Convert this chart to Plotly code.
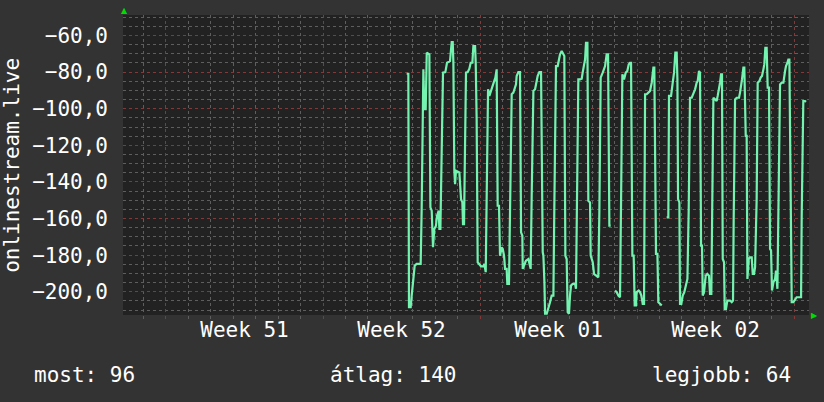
import pandas as pd
import plotly.graph_objects as go

# hours since 2024-12-26 00:00 and values (None = gap)
hours = [17.5, 19.3, 20.0, 21.8, 22.9, 24.7, 26.1, 28.2, 32.5, 33.6, 35.4, 36.4, 37.9, 39.0, 41.8,
         42.9, 44.3, 45.7, 47.1, 48.9, 50.0, 51.8, 52.5, 53.6, 54.6, 56.4, 58.9, 60.7, 63.9, 65.0,
         65.7, 66.8, 67.5, 68.5, 69.3, 70.3, 73.9, 75.7, 77.1, 77.8, 78.9, 79.6, 81.0, 82.8, 84.6,
         86.0, 87.8, 88.9, 90.7, 91.4, 92.4, 93.5, 95.3, 97.1, 99.6, 100.6, 102.1, 103.1, 104.6,
         106.0, 107.8, 109.6, 111.0, 112.4, 113.8, 114.9, 116.3, 117.4,
         119.2, 120.3, 121.7, 122.8, 124.5, 125.2, 127.0, 128.1, 129.9, 131.7, 133.5, 134.5, 135.2,
         137.0, 138.8, 139.9, 141.3, 141.7, 143.1, 145.2, 147.7, 149.1, 150.2, 151.3, 153.1, 154.9,
         156.6, 157.7, 159.5, 161.3, 163.1, 163.8, 164.9, 165.6, 167.4, 169.1, 170.9, 172.7, 174.5,
         175.5, 177.3, 179.1, 180.5, 181.6, 183.4, 185.2, 186.2, 187.3, 188.7, 189.8, 191.2, 192.3,
         193.4, 195.2, 197.7, 198.7, 199.4, 201.2, 203.0, 204.8, 205.9, 207.3, 208.4, 209.4, 210.9,
         211.9, 213.7, 214.4, 215.5, 216.6, 218.0, 220.8, 222.6, 223.7, 225.1, 227.3, 229.8,
         231.5, 233.0, 234.4, 235.8, 238.0,
         240.5, 242.2, 244.0, 245.8, 246.9, 248.3, 250.1, 251.9, 253.6, 255.1, 256.5, 257.6, 259.0,
         260.4, 261.5, 262.9, 263.6, 265.8, 267.2, 268.6, 270.1, 271.5, 272.6, 274.3, 276.1, 277.9,
         279.7, 280.8, 281.5, 282.5, 284.3, 285.8, 286.8, 288.6, 290.4, 293.0,
         295.7, 297.5, 298.2, 300.4, 302.2, 303.6, 305.0, 306.4, 307.2, 307.9, 309.3, 310.0, 311.4,
         312.9, 314.6, 316.4, 317.9, 319.3, 320.7, 322.5, 324.3, 326.1, 327.8, 328.9, 330.3, 331.4,
         332.5, 333.5, 334.3, 335.7, 337.5, 339.2, 341.0, 342.1, 343.5, 344.2, 345.7, 347.5, 349.2,
         350.3, 351.7, 352.8, 353.9, 354.9, 355.7, 357.1, 357.8, 359.2, 360.6, 363.5, 365.3, 366.7,
         367.4, 368.9, 370.6, 373.1, 374.2, 375.3, 376.3, 377.8, 378.8, 380.3, 381.3, 382.1, 383.5,
         384.9, 386.7, 387.8, 389.2, 390.3, 392.0, 393.1, 394.9, 396.3, 397.7, 399.2, 400.2, 401.3,
         402.7, 403.8, 405.2, 406.3, 407.4, 408.4, 409.9, 411.7, 412.7, 414.2, 415.2, 417.0, 418.8,
         420.6, 422.4, 423.4, 424.9, 425.9, 427.0, 428.4, 429.5, 431.3, 433.1, 434.8, 437.3, 439.5,
         440.2, 441.9, 443.7, 444.8]
values = [-80.9, -80.9, -208.4, -208.4, -202.1, -191.2, -185.7, -184.8, -184.8, -153.9, -78.5, -100.3, -100.3, -69.4, -70.3,
          -153.9, -155.7, -175.7, -165.7, -163.9, -158.5, -155.7, -165.7, -165.7, -140.3, -80.3, -80.0, -74.9, -74.0, -69.4,
          -63.6, -63.6, -74.9, -133.9, -141.2, -133.9, -134.8, -149.4, -151.2, -163.0, -163.0, -134.8, -80.3, -80.0, -78.1,
          -74.9, -74.9, -65.8, -65.8, -74.9, -105.8, -183.9, -184.8, -186.1, -186.1, -184.8, -189.3, -147.6, -89.4,
          -93.0, -90.3, -87.6, -84.9, -83.0, -78.5, -153.0, -153.0, -180.3,
          -175.7, -176.6, -180.3, -187.5, -187.5, -195.7, -195.7, -149.4, -92.1, -91.2, -88.5, -86.7, -82.1,
          -80.0, -80.0, -167.5, -169.4, -187.5, -185.7, -183.0, -182.1, -186.6, -187.5, -147.6, -90.3, -89.4,
          -84.0, -82.1, -80.0, -80.0, -178.4, -180.3, -194.8, -212.0, -212.0, -209.3, -205.7, -202.1, -202.1,
          -154.8, -76.7, -76.7, -73.1, -70.3, -68.5, -70.3, -71.2, -180.3, -182.1, -211.1, -212.0, -202.1,
          -196.6, -195.7, -195.7, -198.4, -154.8, -84.0, -84.0, -83.6, -80.0, -74.9, -73.1, -64.0, -64.0,
          -150.3, -151.2, -180.3, -182.1, -183.9, -190.2, -191.2, -192.1, -155.7, -83.0, -80.3, -76.7,
          -70.3, -70.3, -163.9, -163.9, None,
          -199.3, -200.2, -202.1, -203.0, -151.2, -81.2, -84.0, -80.3, -79.4, -75.8, -74.9, -74.9, -180.3,
          -180.3, -207.5, -207.5, -200.2, -199.3, -200.2, -202.1, -206.6, -206.6, -92.1, -92.1, -91.2, -90.3,
          -85.8, -80.3, -77.6, -77.6, -179.3, -179.3, -205.7, -206.6, -207.5, None,
          -159.4, -159.4, -93.0, -93.0, -85.8, -80.3, -69.4, -69.4, -84.0, -149.4, -151.2, -206.6, -206.6,
          -202.1, -200.2, -196.6, -193.0, -154.8, -94.0, -94.0, -92.1, -89.4, -85.8, -84.9, -79.4, -80.3,
          -174.8, -174.8, -202.1, -200.2, -191.2, -190.2, -191.2, -201.2, -201.2, -159.4, -94.0, -94.9, -95.8,
          -93.0, -89.4, -85.8, -81.2, -81.2, -182.1, -183.9, -209.3, -209.3, -204.8, -204.8, -205.7, -204.8,
          -161.2, -94.9, -94.0, -94.0, -91.2, -85.8, -84.0, -77.6, -77.6, -114.8, -114.8, -193.0, -182.1,
          -181.2, -181.2, -190.2, -190.2, -186.6, -149.4, -85.8, -84.9, -83.0, -82.1, -78.5, -75.8, -66.7,
          -66.7, -88.5, -88.5, -176.6, -177.5, -199.3, -194.8, -193.0, -188.4, -198.4, -153.0, -86.7, -85.8,
          -85.8, -79.4, -76.7, -74.9, -73.1, -73.1, -159.4, -205.7, -205.7, -203.9, -203.0, -203.0, -203.0,
          -158.5, -95.8, -95.8, -96.3]

axis_title = "onlinestream.live"
legend_texts = ["most: 96", "átlag: 140", "legjobb: 64"]

base = pd.Timestamp("2024-12-26 00:00")
times = [base + pd.Timedelta(hours=h) for h in hours]

FONT = "DejaVu Sans Mono"
FS = 21
RED = "#853838"
GRAY = "#5e5e5e"

fig = go.Figure()
fig.add_trace(go.Scatter(x=times, y=values, mode="lines",
                         line=dict(color="#74f2b0", width=2.2), connectgaps=False,
                         hoverinfo="skip"))

fig.update_layout(
    width=824, height=402,
    margin=dict(l=123, r=15, t=15, b=87),
    paper_bgcolor="#333333", plot_bgcolor="#222222",
    separators=", ",
    showlegend=False,
    font=dict(family=FONT, color="#ffffff", size=FS),
)
fig.update_xaxes(
    type="date",
    range=["2024-12-14 02:00", "2025-01-13 16:00"],
    tick0="2024-12-16", dtick=7 * 86400000,
    tickformat="Week %V", ticklabelmode="period",
    showgrid=True, gridcolor=RED, griddash="dot", gridwidth=1,
    ticks="outside", ticklen=3, tickcolor=RED,
    ticklabelstandoff=-7,
    tickfont=dict(family=FONT, size=FS, color="#ffffff"),
    minor=dict(dtick=86400000, showgrid=True, gridcolor=GRAY, griddash="dot",
               ticks="outside", ticklen=3, tickcolor=GRAY),
    zeroline=False, showline=False,
)
fig.update_yaxes(
    range=[-212.7, -48.8],
    tick0=0, dtick=20, tickformat=".1f",
    showgrid=True, gridcolor=RED, griddash="dot", gridwidth=1,
    ticks="", ticklabelstandoff=14,
    tickfont=dict(family=FONT, size=FS, color="#ffffff"),
    minor=dict(dtick=5, showgrid=True, gridcolor=GRAY, griddash="dot"),
    zeroline=False, showline=False,
)

anns = [
    dict(text=axis_title, x=-0.162, y=0.5, textangle=-90, xanchor="center", yanchor="middle"),
    dict(text=legend_texts[0], x=-0.133, y=-0.20, xanchor="left", yanchor="middle"),
    dict(text=legend_texts[1], x=0.3936, y=-0.20, xanchor="center", yanchor="middle"),
    dict(text=legend_texts[2], x=0.977, y=-0.20, xanchor="right", yanchor="middle"),
]
for a in anns:
    fig.add_annotation(xref="paper", yref="paper", showarrow=False,
                       font=dict(family=FONT, size=FS, color="#ffffff"), **a)
fig.add_annotation(xref="paper", yref="paper", x=0.0015, y=1.016, text="▲", showarrow=False,
                   font=dict(family="DejaVu Sans", size=8, color="#00dd00"),
                   xanchor="center", yanchor="middle")
fig.add_annotation(xref="paper", yref="paper", x=1.008, y=0.0, text="▶", showarrow=False,
                   font=dict(family="DejaVu Sans", size=8, color="#00dd00"),
                   xanchor="center", yanchor="middle")

fig.write_html("out.html", config={"displayModeBar": False},
               post_script="document.body.style.margin='0';document.body.style.background='#333333';")
